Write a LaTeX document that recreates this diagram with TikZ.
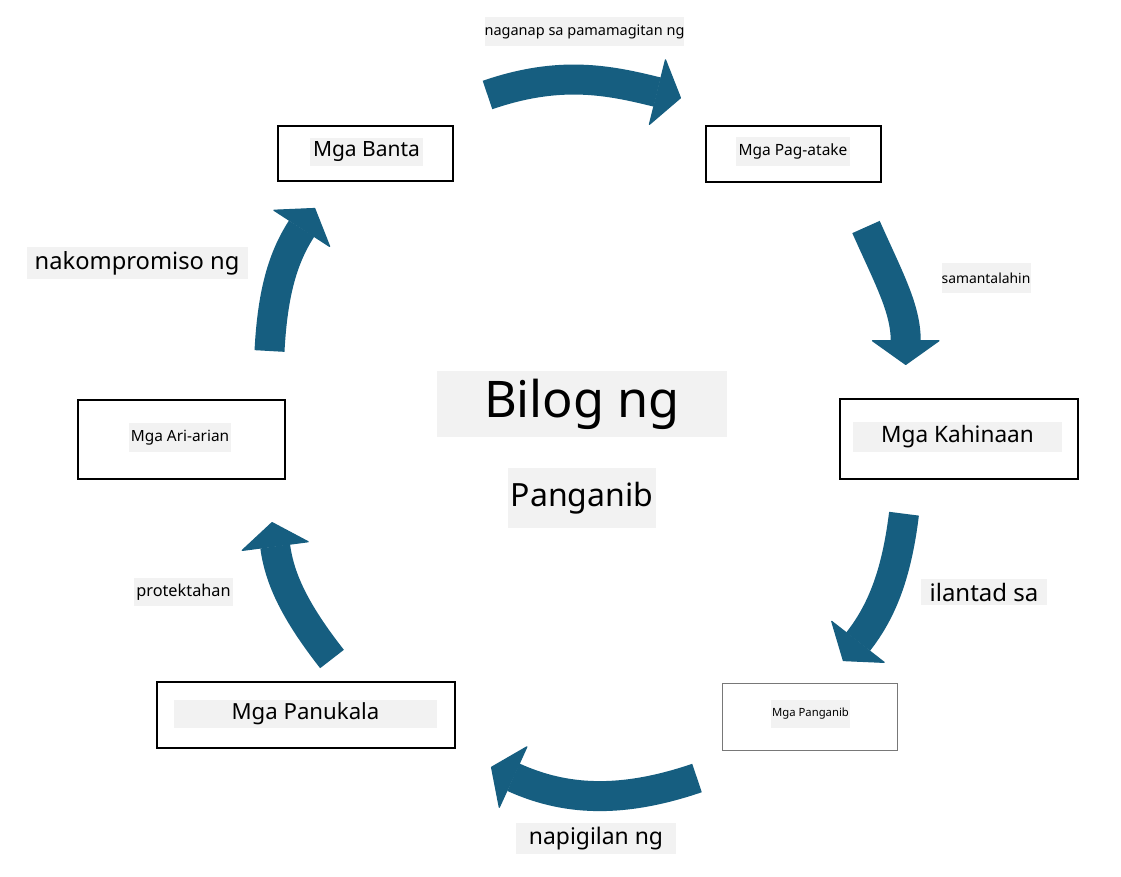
\documentclass[tikz,border=0pt]{standalone}
\usepackage{fontspec}
\setmainfont{Noto Sans}
\usetikzlibrary{arrows.meta}
\definecolor{flowblue}{RGB}{22,94,128}
\definecolor{labelgray}{RGB}{242,242,242}
\definecolor{framegray}{RGB}{120,120,120}
\newcommand{\fsz}[1]{\fontsize{#1}{#1}\selectfont}
\tikzset{
  frame/.style={draw=black, line width=1.1pt, inner sep=0pt},
  tag/.style={fill=labelgray, inner sep=0pt, text=black, align=center},
  flow/.style={draw=flowblue, line width=30pt, line cap=butt,
    -{Triangle[length=25pt,width=70pt,line width=1.2pt,round]}}
}
\begin{document}
\begin{tikzpicture}[x=1pt,y=1pt]
\path[use as bounding box, fill=white] (0,0) rectangle (1121,-876);

% frames
\node[frame, minimum width=175pt, minimum height=55pt] (bantaF) at (365.5,-153.5) {};
\node[frame, minimum width=175pt, minimum height=56pt] (atakeF) at (793.5,-154) {};
\node[frame, minimum width=238pt, minimum height=80pt] (kahinF) at (959,-439) {};
\node[frame, draw=framegray, line width=0.9pt, minimum width=175pt, minimum height=67pt] (panganF) at (809.5,-716.5) {};
\node[frame, minimum width=298pt, minimum height=66pt] (panukF) at (306,-715) {};
\node[frame, minimum width=207pt, minimum height=79pt] (ariF) at (181.5,-439.5) {};

% box labels
\node[tag, minimum width=113pt, minimum height=28pt, font=\fsz{21}] (banta) at (366.5,-152) {Mga Banta};
\node[tag, minimum width=114pt, minimum height=29pt, font=\fsz{15.5}] (atake) at (793,-151.5) {Mga Pag-atake};
\node[tag, minimum width=209pt, minimum height=30pt, font=\fsz{22.6}] (kahin) at (957.5,-437) {Mga Kahinaan};
\node[tag, minimum width=79pt, minimum height=28pt, font=\fsz{11.3}] (pangan) at (810.5,-714) {Mga Panganib};
\node[tag, minimum width=263pt, minimum height=28pt, font=\fsz{22.2}] (panuk) at (305.5,-714) {Mga Panukala};
\node[tag, minimum width=102pt, minimum height=29pt, font=\fsz{15.4}] (ari) at (180,-437.5) {Mga Ari-arian};

% centre title
\node[tag, minimum width=290pt, minimum height=66pt, font=\fsz{50.5}] (title1) at (582,-404) {Bilog ng};
\node[tag, minimum width=148pt, minimum height=60pt, font=\fsz{32}] (title2) at (582,-498) {Panganib};

% connector labels
\node[tag, minimum width=199pt, minimum height=29pt, font=\fsz{14.5}] (l1) at (584.5,-31.5) {naganap sa pamamagitan ng};
\node[tag, minimum width=89pt, minimum height=30pt, font=\fsz{13.9}] (l2) at (986,-278) {samantalahin};
\node[tag, minimum width=126pt, minimum height=26pt, font=\fsz{24}] (l3) at (984,-592) {ilantad sa};
\node[tag, minimum width=160pt, minimum height=31pt, font=\fsz{22.9}] (l4) at (596,-838.5) {napigilan ng};
\node[tag, minimum width=99pt, minimum height=28pt, font=\fsz{16.3}] (l5) at (183.5,-592) {protektahan};
\node[tag, minimum width=221pt, minimum height=32pt, font=\fsz{23.7}] (l6) at (137,-263) {nakompromiso ng};

% arrow end points
\coordinate (a1s) at (487.5,-95);  \coordinate (a1e) at (681,-98);
\coordinate (a2s) at (866,-227);   \coordinate (a2e) at (905.7,-365);
\coordinate (a3s) at (904,-513.7); \coordinate (a3e) at (843,-661);
\coordinate (a4s) at (697,-778);   \coordinate (a4e) at (491,-767);
\coordinate (a5s) at (332,-659);   \coordinate (a5e) at (272,-522);
\coordinate (a6s) at (269.5,-351); \coordinate (a6e) at (315,-208);

\draw[flow] (a1s) to[out=19,in=166] (a1e);
\draw[flow] (a2s) to[out=-66,in=90] (a2e);
\draw[flow] (a3s) to[out=263,in=52] (a3e);
\draw[flow] (a4s) to[out=198.8,in=-24.5] (a4e);
\draw[flow] (a5s) to[out=128,in=-82.5] (a5e);
\draw[flow] (a6s) to[out=87,in=237] (a6e);
\end{tikzpicture}
\end{document}
